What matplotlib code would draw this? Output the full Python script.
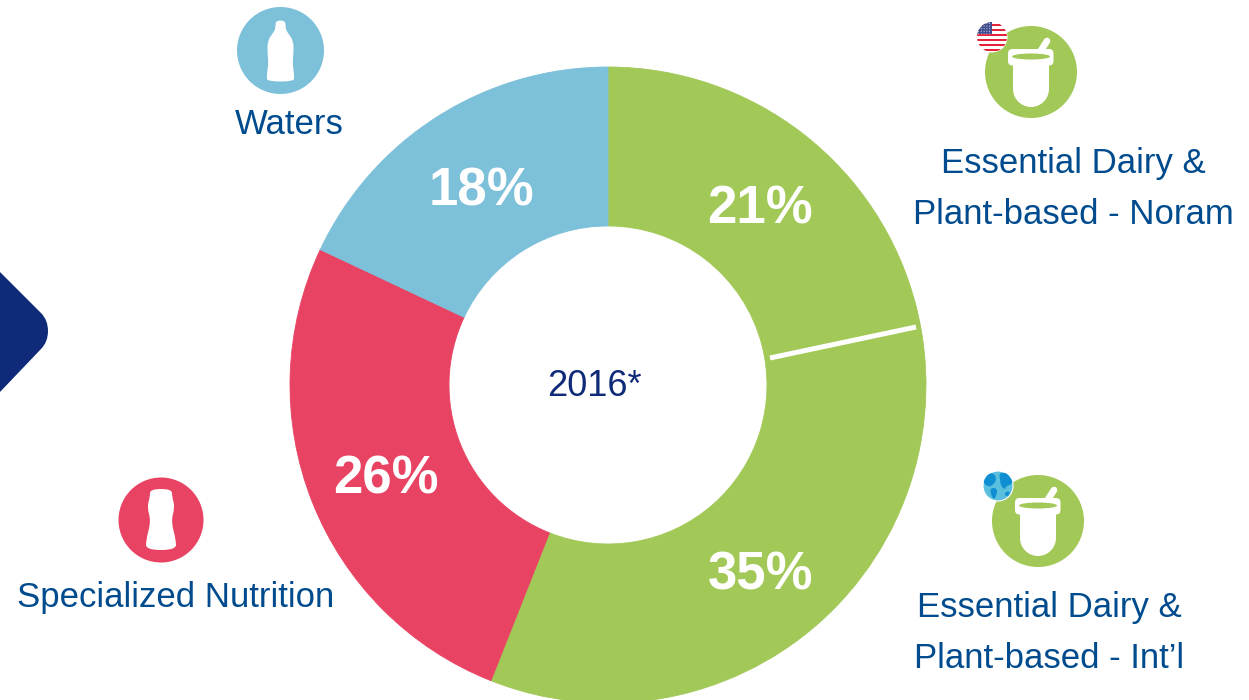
import numpy as np
import matplotlib
matplotlib.use("Agg")
import matplotlib.pyplot as plt
from matplotlib.patches import Circle, Ellipse, PathPatch, FancyBboxPatch, Rectangle
from matplotlib.path import Path

plt.rcParams["font.family"] = ["Liberation Sans", "DejaVu Sans"]

# ---------------- DATA ----------------
segments = ["Essential Dairy & Plant-based - Noram", "Essential Dairy & Plant-based - Int\u2019l",
            "Specialized Nutrition", "Waters"]
shares = [21, 35, 26, 18]
share_labels = ["21%", "35%", "26%", "18%"]
year_label = "2016*"

GREEN = "#A2C857"
BLUE = "#7DC0D9"
RED = "#E94363"
TEXT = "#004B8D"
NAVY = "#0F2A78"
seg_colors = [GREEN, GREEN, RED, BLUE]


def blob(points, cx, cy):
    """Closed smooth outline through the midpoints of the given control points."""
    pts = np.array(points, float) + (cx, cy)
    mids = (pts + np.roll(pts, -1, axis=0)) / 2
    verts = [mids[-1]]
    codes = [Path.MOVETO]
    for p, m in zip(pts, mids):
        verts += [p, m]
        codes += [Path.CURVE3, Path.CURVE3]
    return Path(verts, codes)


def mirrored(right_side):
    # outline given top to bottom on the right, reflected for the left
    return right_side + [(-x, y) for x, y in reversed(right_side)]


def cup_icon(ax, cx, cy):
    ax.add_patch(Circle((cx, cy), 46, fc=GREEN, ec="none", zorder=3))
    # spoon handle
    ax.plot([cx + 9, cx + 16], [cy - 20, cy - 31], color="white", lw=4.8, solid_capstyle="round", zorder=4)
    # body with round bottom
    k = 0.55 * 18
    body = Path(
        [(cx - 18, cy - 10), (cx - 18, cy + 17), (cx - 18, cy + 17 + k), (cx - k, cy + 35), (cx, cy + 35),
         (cx + k, cy + 35), (cx + 18, cy + 17 + k), (cx + 18, cy + 17), (cx + 18, cy - 10), (cx - 18, cy - 10)],
        [Path.MOVETO, Path.LINETO, Path.CURVE4, Path.CURVE4, Path.CURVE4,
         Path.CURVE4, Path.CURVE4, Path.CURVE4, Path.LINETO, Path.CLOSEPOLY])
    ax.add_patch(PathPatch(body, fc="white", ec="none", zorder=4))
    # rim
    ax.add_patch(FancyBboxPatch((cx - 23, cy - 23), 45.5, 16.5, boxstyle="round,pad=0,rounding_size=4.5",
                                fc="white", ec="none", zorder=4))
    ax.add_patch(Ellipse((cx, cy - 15.5), 38, 6, fc=GREEN, ec="none", zorder=5))


def flag_badge(ax, cx, cy, r):
    clip = Circle((cx, cy), r, transform=ax.transData)
    ax.add_patch(Circle((cx, cy), r + 0.5, fc="white", ec="none", zorder=6))
    for i in range(6):
        band = Rectangle((cx - r, cy - r + 1.8 + i * 5), 2 * r, 2.6, fc="#E3243B", ec="none", zorder=7)
        ax.add_patch(band)
        band.set_clip_path(clip)
    canton = Rectangle((cx - r, cy - r), r, 12, fc="#3F4C8E", ec="none", zorder=8)
    ax.add_patch(canton)
    canton.set_clip_path(clip)
    # stars, just specks at this size
    for sx in np.arange(cx - r + 1.5, cx, 2.8):
        for sy in np.arange(cy - r + 1.5, cy - r + 12, 2.6):
            star = Circle((sx, sy), 0.55, fc="#D8DCEC", ec="none", zorder=9)
            ax.add_patch(star)
            star.set_clip_path(clip)


def globe_badge(ax, cx, cy, r):
    clip = Circle((cx, cy), r, transform=ax.transData)
    ax.add_patch(Circle((cx, cy), r, fc="#5AC0DE", ec="white", lw=0.8, zorder=6))
    land = [
        [(-15, -10), (-5, -14), (-1, -7), (-5, -1), (-9, 1), (-15, -3)],
        [(-8, 2), (-1, 2), (-1, 8), (-4, 14), (-7, 9)],
        [(1, -14), (15, -12), (15, -2), (8, 0), (7, 4), (3, 0), (2, -6)],
        [(7, 6), (12, 5), (11, 10), (7, 10)],
    ]
    for pts in land:
        patch = PathPatch(blob(pts, cx, cy), fc="#0F8FD2", ec="none", zorder=7)
        ax.add_patch(patch)
        patch.set_clip_path(clip)


fig = plt.figure(figsize=(12.49, 7.0), dpi=100)
ax = fig.add_axes([0, 0, 1, 1])

# ---------------- RING ----------------
wedges, _ = ax.pie(shares, colors=seg_colors, center=(608, 385), radius=318, startangle=-90, counterclock=True,
                   frame=True, wedgeprops=dict(width=159))
for w, c in zip(wedges, seg_colors):
    # same-colour edge closes the hairline between the two green parts
    w.set_edgecolor(c)
    w.set_linewidth(0.6)
ax.plot([770, 916], [358, 327], color="white", lw=3.6, solid_capstyle="butt", zorder=2)

ax.set_xlim(0, 1249)
ax.set_ylim(700, 0)
ax.set_aspect("equal")
ax.axis("off")

# ---------------- NAV ARROW ----------------
ax.add_patch(PathPatch(Path(
    [(0, 272), (41, 313), (48, 320), (48, 331), (48, 342), (41, 349), (0, 392), (0, 272)],
    [Path.MOVETO, Path.LINETO, Path.CURVE3, Path.CURVE3, Path.CURVE3, Path.CURVE3, Path.LINETO, Path.CLOSEPOLY]),
    fc=NAVY, ec="none", zorder=2))

# ---------------- ICONS ----------------
ax.add_patch(Circle((280.5, 50.5), 43.5, fc=BLUE, ec="none", zorder=3))
water_bottle = mirrored([(5, -30), (5, -22), (7, -18), (13, -10), (13, 3), (12, 13), (14, 26), (13, 31)])
ax.add_patch(PathPatch(blob(water_bottle, 280.5, 50.5), fc="white", ec="none", zorder=4))

ax.add_patch(Circle((161, 520), 42.5, fc=RED, ec="none", zorder=3))
milk_bottle = mirrored([(11, -31), (11, -23), (14, -13), (10, 1), (15, 20), (15, 30)])
ax.add_patch(PathPatch(blob(milk_bottle, 161, 520), fc="white", ec="none", zorder=4))

cup_icon(ax, 1031, 72)
cup_icon(ax, 1038, 521)
flag_badge(ax, 992, 37, 15)
globe_badge(ax, 998, 486, 15)

# ---------------- TEXT ----------------
label_kw = dict(ha="center", va="center", color=TEXT, fontsize=25, zorder=10)
ax.text(289.5, 124, "Waters", **label_kw)
ax.text(1073, 164, "Essential Dairy &", **label_kw)
ax.text(1073, 215, "Plant-based - Noram", **label_kw)
ax.text(1049, 607, "Essential Dairy &", **label_kw)
ax.text(1049, 658, "Plant-based - Int\u2019l", **label_kw)
ax.text(176, 597, "Specialized Nutrition", **label_kw)
ax.text(594, 386, year_label, ha="center", va="center", color=NAVY, fontsize=26, zorder=10)

pct_pos = [(760, 209), (761, 576), (386, 479), (481, 191)]
for (x, y), lab in zip(pct_pos, share_labels):
    ax.text(x, y, lab, ha="center", va="center", color="white", fontsize=38, fontweight="bold", zorder=10)

fig.savefig("out.png", dpi=100)
